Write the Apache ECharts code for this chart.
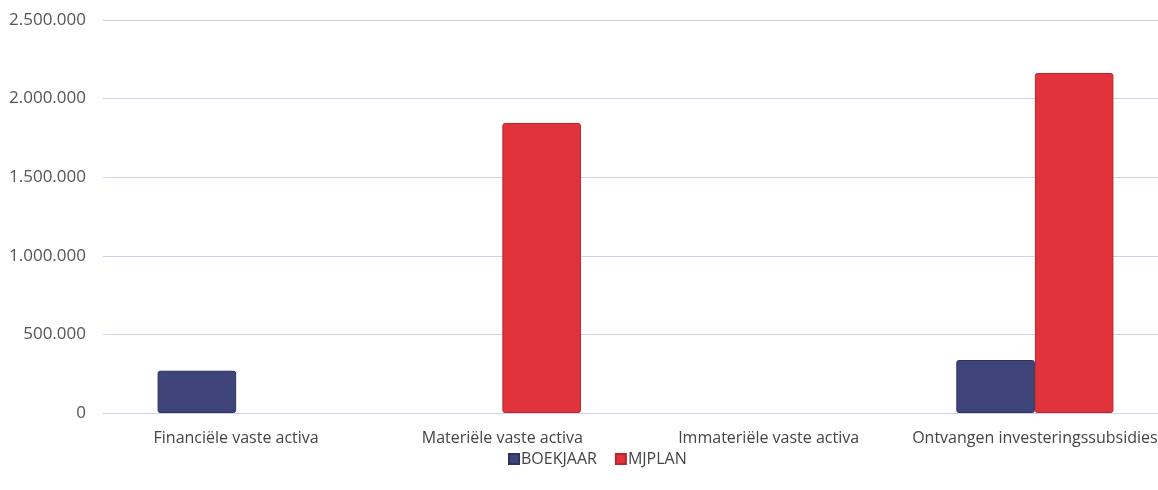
<!DOCTYPE html>
<html>
<head>
<meta charset="utf-8">
<script src="https://cdn.jsdelivr.net/npm/echarts@6/dist/echarts.min.js"></script>
<style>
  html, body { margin: 0; padding: 0; background: #ffffff; }
  #chart { width: 1158px; height: 490px; }
</style>
</head>
<body>
<div id="chart"></div>
<script>
// Investment categories and their amounts (EUR); '-' marks an empty cell
const categories = [
  'Financiële vaste activa',
  'Materiële vaste activa',
  'Immateriële vaste activa',
  'Ontvangen investeringssubsidies'
];
const boekjaar = [269000, '-', '-', 337000];
const mjplan = ['-', 1845000, '-', 2163000];
const seriesNames = ['BOEKJAAR', 'MJPLAN'];

// Dutch thousands separator
function fmt(v) {
  return String(v).replace(/\B(?=(\d{3})+(?!\d))/g, '.');
}

const chart = echarts.init(document.getElementById('chart'));
const font = '"Open Sans", "Noto Sans", sans-serif';

chart.setOption({
  animation: false,
  textStyle: { fontFamily: font },
  // plot area runs slightly past the right edge of the canvas
  grid: { left: 103, width: 1065, top: 20, bottom: 77, containLabel: false, outerBoundsMode: 'none' },
  legend: {
    data: seriesNames,
    bottom: 18,
    left: 503,
    icon: 'rect',
    itemWidth: 10,
    itemHeight: 10,
    itemGap: 18,
    textStyle: { color: '#444', fontSize: 16, fontFamily: font, padding: [0, 0, 0, -3] }
  },
  xAxis: {
    type: 'category',
    data: categories,
    axisLine: { show: false },
    axisTick: { show: false },
    axisLabel: { color: '#444', fontSize: 16, margin: 17, interval: 0, fontFamily: font }
  },
  yAxis: {
    type: 'value',
    min: 0,
    max: 2500000,
    interval: 500000,
    axisLine: { show: false },
    axisTick: { show: false },
    axisLabel: { color: '#555', fontSize: 17, margin: 17, formatter: fmt, fontFamily: font },
    splitLine: { lineStyle: { color: '#cfd2ea', width: 1 } }
  },
  series: [
    {
      name: seriesNames[0],
      type: 'bar',
      data: boekjaar,
      barGap: '0%',
      barCategoryGap: '41%',
      itemStyle: { color: '#3e4478', borderColor: '#2e3260', borderWidth: 1, borderRadius: 2 }
    },
    {
      name: seriesNames[1],
      type: 'bar',
      data: mjplan,
      itemStyle: { color: '#e0333b', borderColor: '#b8262d', borderWidth: 1, borderRadius: 2 }
    }
  ]
});
</script>
</body>
</html>
